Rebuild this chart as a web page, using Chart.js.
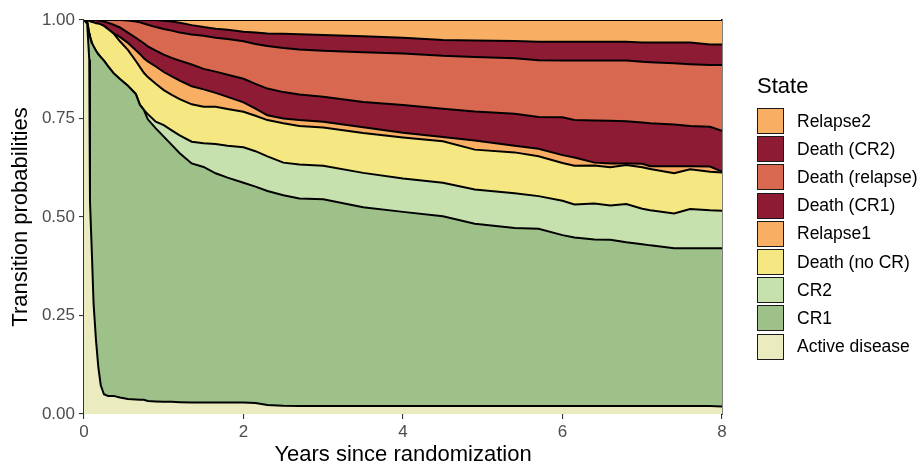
<!DOCTYPE html>
<html>
<head>
<meta charset="utf-8">
<script src="https://cdn.jsdelivr.net/npm/chart.js@4.4.1/dist/chart.umd.min.js"></script>
<style>
  html, body { margin: 0; padding: 0; background: #fff; }
  #wrap { position: relative; width: 921px; height: 466px; font-family: "Liberation Sans", Arial, sans-serif; }
  #chart { position: absolute; left: 0; top: 0; }
  .legend { position: absolute; left: 757px; top: 75px; color: #000; }
  .legend-title { font-size: 22px; line-height: 22px; height: 22px; margin-bottom: 10px; }
  .legend-item { display: flex; align-items: center; height: 28.2px; font-size: 17.5px; white-space: nowrap; }
  .legend-box { box-sizing: border-box; width: 27px; height: 26px; border: 1.5px solid #1a1a1a; margin-right: 13px; }
</style>
</head>
<body>
<div id="wrap">
  <canvas id="chart" width="921" height="466"></canvas>
  <div class="legend" id="legend"></div>
</div>
<script>
// years since randomization
const times = [0, 0.04, 0.066, 0.075, 0.1, 0.12, 0.15, 0.18, 0.21, 0.25, 0.3, 0.37, 0.45, 0.55, 0.65, 0.7, 0.75, 0.8, 0.9, 1.0,
  1.1, 1.2, 1.35, 1.5, 1.65, 1.8, 2.0, 2.15, 2.3, 2.5, 2.7, 3.0, 3.5, 4.0, 4.5, 4.9, 5.4, 5.7, 6.0, 6.15,
  6.4, 6.6, 6.8, 7.0, 7.1, 7.4, 7.6, 7.85, 8.0];

// state occupation probabilities (stacked bottom to top)
const activeDisease = [1.0, 0.99, 0.90, 0.54, 0.40, 0.28, 0.188, 0.118, 0.073, 0.050, 0.046, 0.046, 0.042, 0.038, 0.037, 0.036, 0.036, 0.033, 0.032, 0.031,
  0.031, 0.030, 0.029, 0.029, 0.029, 0.029, 0.029, 0.028, 0.023, 0.021, 0.020, 0.020, 0.020, 0.020, 0.020, 0.020, 0.020, 0.020, 0.020, 0.020,
  0.020, 0.020, 0.020, 0.020, 0.020, 0.020, 0.020, 0.020, 0.019];
const cr1 = [0, 0.006, 0.065, 0.418, 0.541, 0.653, 0.734, 0.795, 0.833, 0.847, 0.837, 0.819, 0.808, 0.795, 0.775, 0.749, 0.736, 0.715, 0.693, 0.673,
  0.652, 0.632, 0.607, 0.598, 0.582, 0.571, 0.558, 0.549, 0.543, 0.534, 0.527, 0.525, 0.505, 0.493, 0.482, 0.463, 0.452, 0.450, 0.434, 0.428,
  0.423, 0.422, 0.416, 0.411, 0.408, 0.401, 0.401, 0.401, 0.402];
const cr2 = [0, 0, 0, 0, 0, 0, 0, 0, 0, 0, 0, 0, 0, 0, 0, 0, 0, 0.013, 0.017, 0.029,
  0.037, 0.045, 0.055, 0.060, 0.074, 0.081, 0.090, 0.090, 0.088, 0.083, 0.086, 0.085, 0.087, 0.085, 0.085, 0.087, 0.088, 0.083, 0.087, 0.084,
  0.091, 0.087, 0.097, 0.090, 0.089, 0.088, 0.099, 0.096, 0.095];
const deathNoCR = [0, 0.004, 0.033, 0.039, 0.054, 0.061, 0.070, 0.078, 0.083, 0.088, 0.094, 0.101, 0.096, 0.091, 0.084, 0.096, 0.094, 0.094, 0.096, 0.089,
  0.090, 0.092, 0.095, 0.093, 0.095, 0.093, 0.090, 0.090, 0.092, 0.100, 0.098, 0.097, 0.101, 0.104, 0.105, 0.101, 0.104, 0.101, 0.096, 0.098,
  0.097, 0.097, 0.099, 0.105, 0.105, 0.102, 0.101, 0.098, 0.097];
const relapse1 = [0, 0, 0, 0, 0, 0, 0, 0, 0, 0, 0, 0, 0.011, 0.018, 0.027, 0.033, 0.037, 0.040, 0.044, 0.046,
  0.047, 0.047, 0.046, 0.044, 0.035, 0.031, 0.024, 0.018, 0.012, 0.012, 0.015, 0.015, 0.015, 0.012, 0.011, 0.023, 0.017, 0.019, 0.020, 0.021,
  0.007, 0.010, 0.004, 0.009, 0.007, 0.018, 0.008, 0.013, 0.002];
const deathCR1 = [0, 0, 0.002, 0.003, 0.005, 0.006, 0.008, 0.008, 0.009, 0.011, 0.016, 0.022, 0.024, 0.026, 0.032, 0.034, 0.038, 0.038, 0.040, 0.044,
  0.047, 0.051, 0.055, 0.052, 0.054, 0.056, 0.060, 0.063, 0.068, 0.067, 0.065, 0.063, 0.064, 0.070, 0.072, 0.074, 0.081, 0.081, 0.096, 0.095,
  0.107, 0.108, 0.107, 0.105, 0.109, 0.106, 0.102, 0.101, 0.104];
const deathRelapse = [0, 0, 0, 0, 0, 0, 0, 0.001, 0.002, 0.004, 0.007, 0.012, 0.019, 0.031, 0.041, 0.046, 0.050, 0.055, 0.060, 0.065,
  0.069, 0.071, 0.076, 0.084, 0.086, 0.091, 0.095, 0.101, 0.108, 0.112, 0.114, 0.117, 0.126, 0.131, 0.134, 0.138, 0.141, 0.144, 0.144, 0.151,
  0.152, 0.153, 0.154, 0.154, 0.155, 0.155, 0.157, 0.157, 0.167];
const deathCR2 = [0, 0, 0, 0, 0, 0, 0, 0, 0, 0, 0, 0, 0, 0.001, 0.004, 0.006, 0.009, 0.012, 0.018, 0.021,
  0.023, 0.025, 0.024, 0.022, 0.023, 0.023, 0.024, 0.029, 0.032, 0.036, 0.039, 0.040, 0.041, 0.040, 0.040, 0.042, 0.044, 0.047, 0.048, 0.048,
  0.048, 0.048, 0.048, 0.049, 0.050, 0.053, 0.055, 0.052, 0.052];
const relapse2 = [0, 0, 0, 0, 0, 0, 0, 0, 0, 0, 0, 0, 0, 0, 0, 0, 0, 0, 0, 0.002,
  0.004, 0.007, 0.013, 0.018, 0.022, 0.025, 0.030, 0.032, 0.034, 0.035, 0.036, 0.038, 0.041, 0.045, 0.051, 0.052, 0.053, 0.055, 0.055, 0.055,
  0.055, 0.055, 0.055, 0.057, 0.057, 0.057, 0.057, 0.062, 0.062];

const stateNames = ["Active disease", "CR1", "CR2", "Death (no CR)", "Relapse1", "Death (CR1)", "Death (relapse)", "Death (CR2)", "Relapse2"];
const stateValues = [activeDisease, cr1, cr2, deathNoCR, relapse1, deathCR1, deathRelapse, deathCR2, relapse2];
const stateColors = ["#eaecc0", "#9dc189", "#c6e1ae", "#f5e781", "#f8ae63", "#8e1b34", "#d96850", "#8e1b34", "#f8ae63"];

const yTicks = [0, 0.25, 0.5, 0.75, 1];
const xTicks = [0, 2, 4, 6, 8];

const tickFont = { family: "'Liberation Sans', Arial, sans-serif", size: 17 };
const titleFont = { family: "'Liberation Sans', Arial, sans-serif", size: 22, lineHeight: 1 };

const datasets = stateNames.map((name, i) => ({
  label: name,
  data: times.map((t, j) => ({ x: t, y: stateValues[i][j] })),
  backgroundColor: stateColors[i],
  borderColor: "#000",
  borderWidth: 2,
  fill: i === 0 ? "origin" : "-1",
  pointRadius: 0,
  tension: 0
}));

new Chart(document.getElementById("chart"), {
  type: "line",
  data: { datasets },
  options: {
    responsive: false,
    animation: false,
    events: [],
    layout: { padding: { top: 20, right: 199, bottom: 0, left: 0 } },
    plugins: { legend: { display: false }, tooltip: { enabled: false } },
    scales: {
      x: {
        type: "linear",
        min: 0,
        max: 8,
        z: 1,
        afterBuildTicks: (scale) => { scale.ticks = xTicks.map(v => ({ value: v })); },
        ticks: { color: "#4d4d4d", font: tickFont, padding: 3, maxRotation: 0, callback: v => String(v) },
        grid: { drawOnChartArea: false, tickLength: 5, color: "#333", lineWidth: 1.1 },
        border: { color: "#333", width: 1.1 },
        title: { display: true, text: "Years since randomization", color: "#000", font: titleFont, padding: { top: 0, bottom: 0 } },
        afterFit: (scale) => { scale.height = 52; }
      },
      y: {
        stacked: true,
        min: 0,
        max: 1,
        z: 1,
        afterBuildTicks: (scale) => { scale.ticks = yTicks.map(v => ({ value: v })); },
        ticks: { color: "#4d4d4d", font: tickFont, padding: 4, callback: v => v.toFixed(2) },
        grid: { drawOnChartArea: false, tickLength: 5, color: "#333", lineWidth: 1.1 },
        border: { color: "#333", width: 1.1 },
        title: { display: true, text: "Transition probabilities", color: "#000", font: titleFont, padding: { top: 10, bottom: 0 } },
        afterFit: (scale) => { scale.width = 84; }
      },
      yr: {
        position: "right",
        display: true,
        z: 1,
        min: 0,
        max: 1,
        ticks: { display: false },
        grid: { display: false },
        border: { color: "#000", width: 1.5 },
        afterFit: (scale) => { scale.width = 0; }
      }
    }
  }
});

// legend, top state first
const legend = document.getElementById("legend");
let html = '<div class="legend-title">State</div>';
for (let i = stateNames.length - 1; i >= 0; i--) {
  html += '<div class="legend-item"><span class="legend-box" style="background:' + stateColors[i] + '"></span>' + stateNames[i] + '</div>';
}
legend.innerHTML = html;
</script>
</body>
</html>
